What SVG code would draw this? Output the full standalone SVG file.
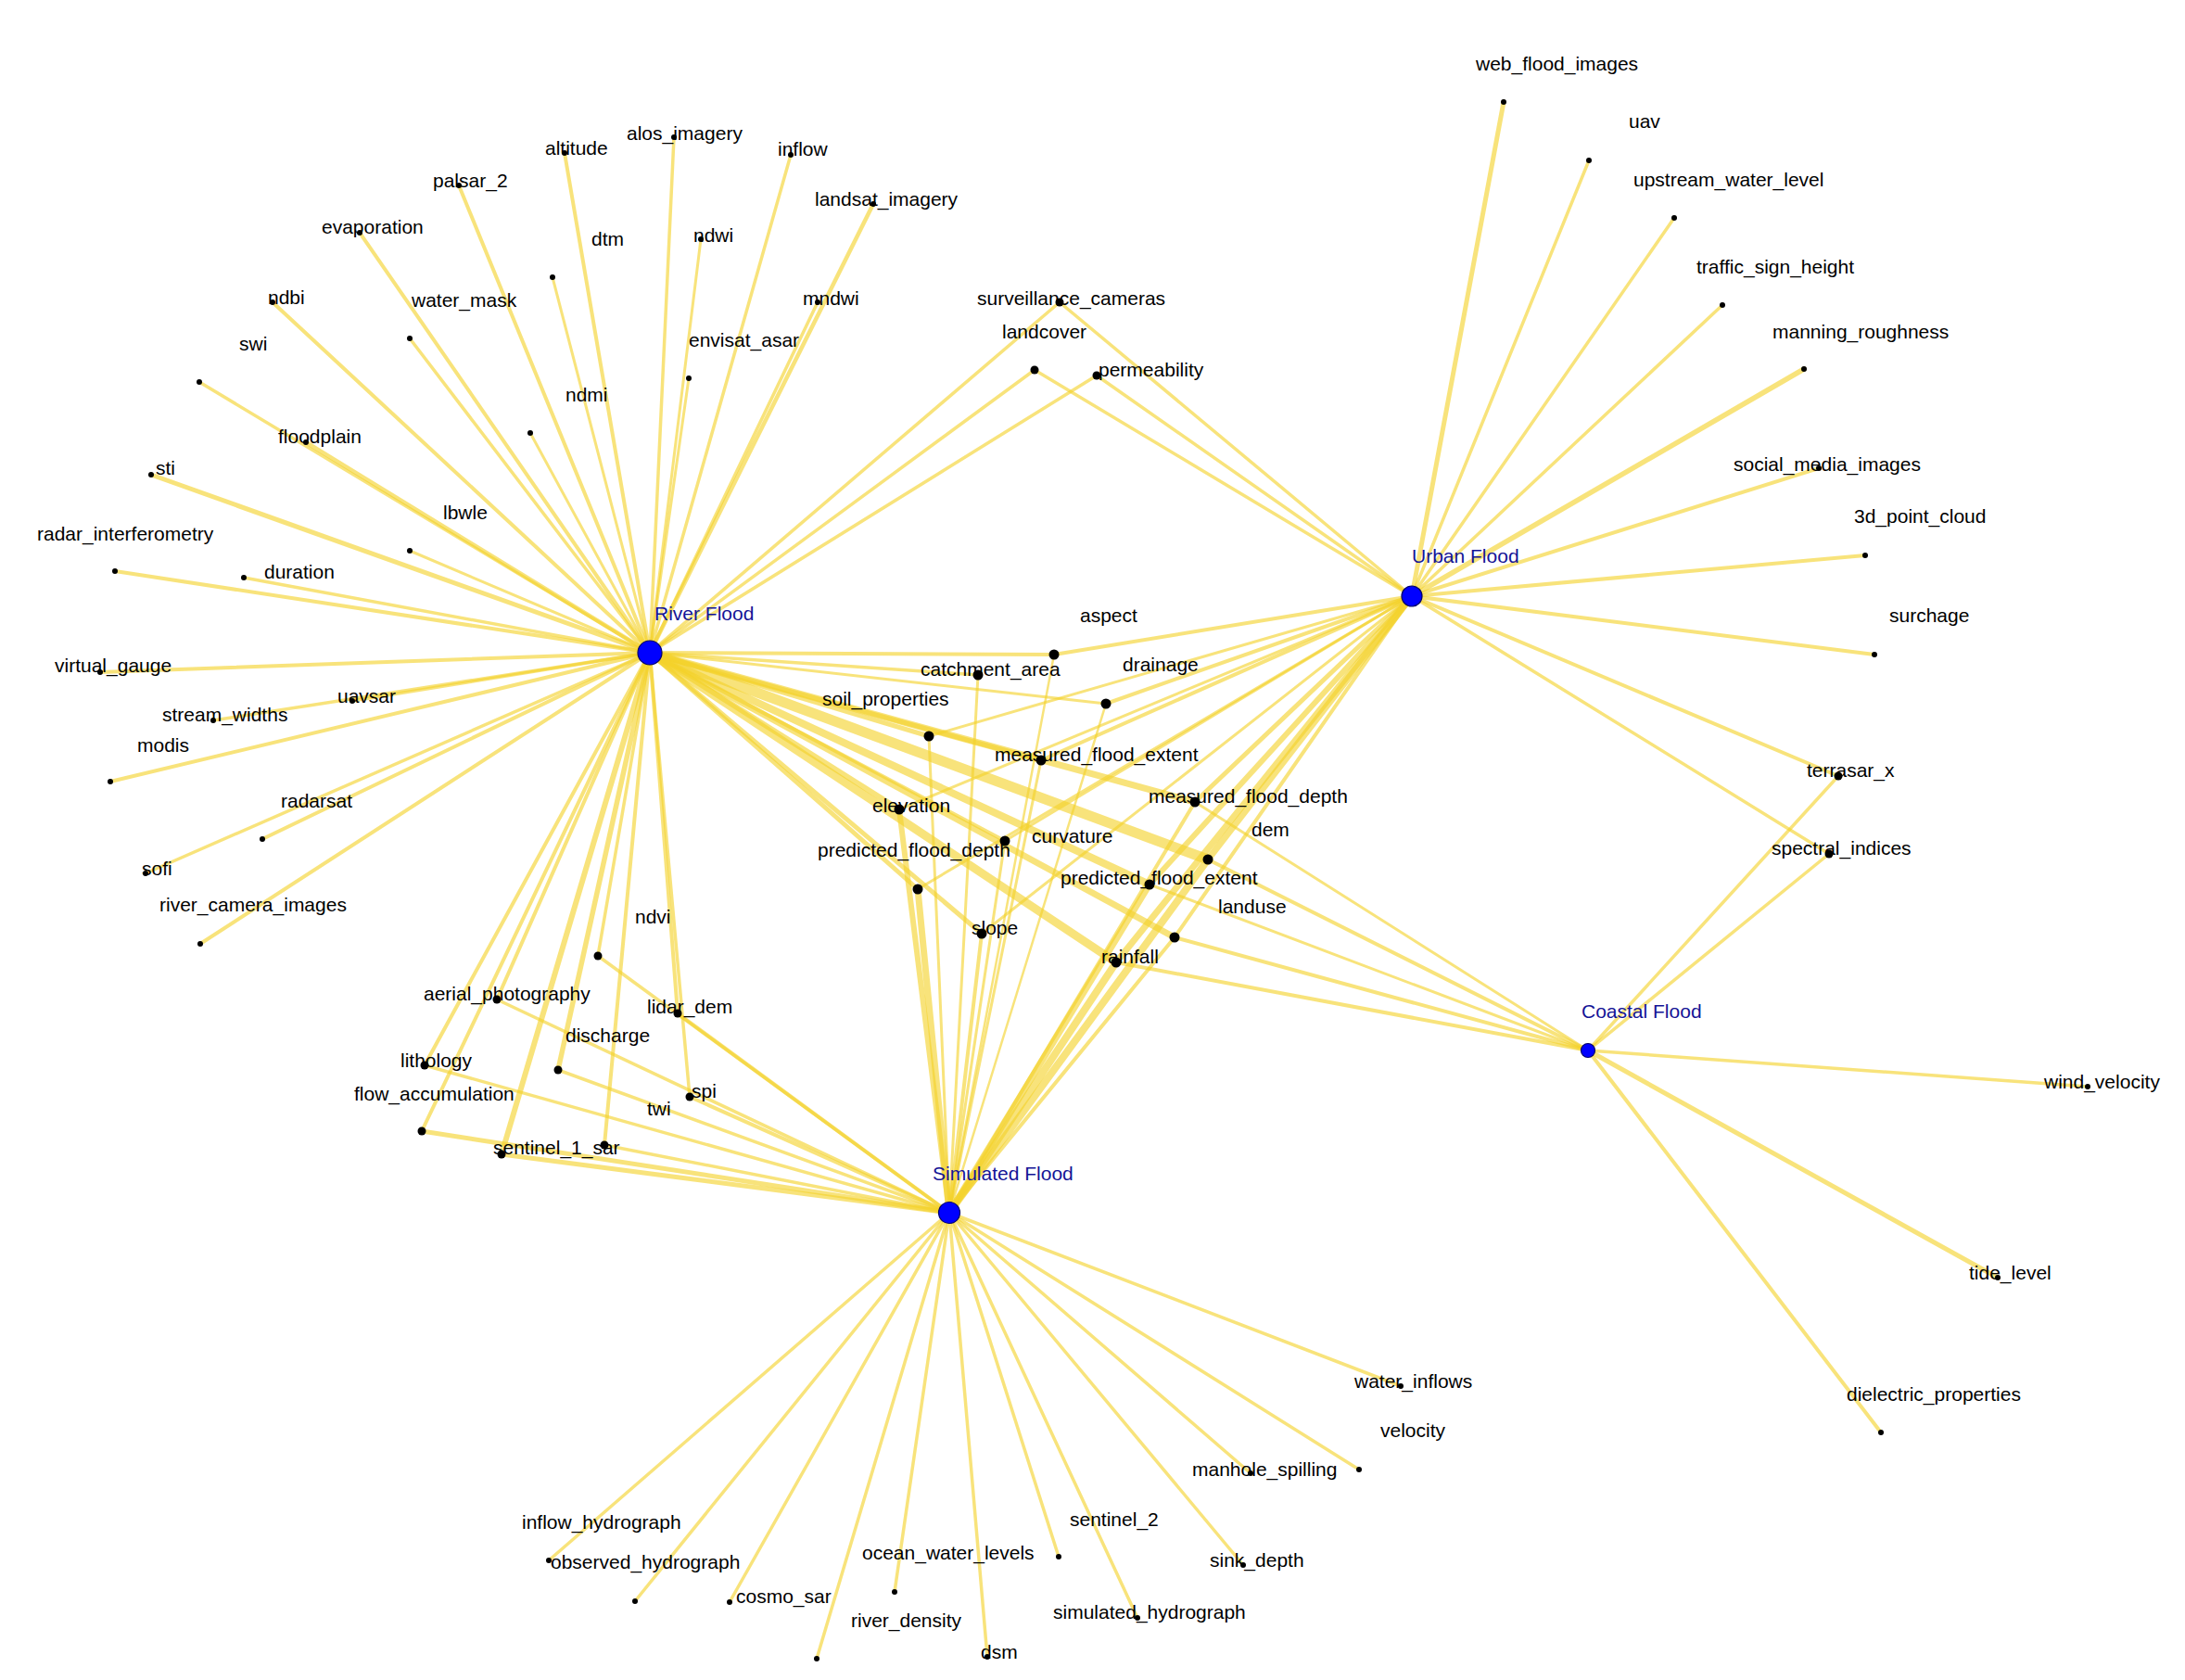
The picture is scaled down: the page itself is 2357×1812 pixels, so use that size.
<svg xmlns="http://www.w3.org/2000/svg" width="2357" height="1812" viewBox="0 0 2357 1812">
<style>
.e{stroke:#F4D22A;stroke-opacity:.62;stroke-linecap:round;fill:none}
.d1{fill:#000;r:3px}
.d2{fill:#000;r:4.5px}
.d3{fill:#000;r:5.5px}
.h{fill:#0000FF;stroke:#00006a;stroke-width:1.2}
text{font-family:"Liberation Sans",Arial,sans-serif;font-size:21px;fill:#000}
.ht{fill:#141496}
</style>
<rect width="2357" height="1812" fill="#fff"/>
<g id="connectors" class="edges">
<g id="river-edges">
<line class="e" x1="701" y1="704" x2="609" y2="165" stroke-width="4"/>
<line class="e" x1="701" y1="704" x2="727" y2="148" stroke-width="3.5"/>
<line class="e" x1="701" y1="704" x2="495" y2="200" stroke-width="4"/>
<line class="e" x1="701" y1="704" x2="388" y2="251" stroke-width="4"/>
<line class="e" x1="701" y1="704" x2="596" y2="299" stroke-width="3"/>
<line class="e" x1="701" y1="704" x2="756" y2="258" stroke-width="3"/>
<line class="e" x1="701" y1="704" x2="294" y2="326" stroke-width="4"/>
<line class="e" x1="701" y1="704" x2="442" y2="365" stroke-width="3.5"/>
<line class="e" x1="701" y1="704" x2="215" y2="412" stroke-width="3.5"/>
<line class="e" x1="701" y1="704" x2="743" y2="408" stroke-width="3"/>
<line class="e" x1="701" y1="704" x2="572" y2="467" stroke-width="3"/>
<line class="e" x1="701" y1="704" x2="330" y2="477" stroke-width="4.5"/>
<line class="e" x1="701" y1="704" x2="163" y2="512" stroke-width="5"/>
<line class="e" x1="701" y1="704" x2="442" y2="594" stroke-width="3"/>
<line class="e" x1="701" y1="704" x2="124" y2="616" stroke-width="4"/>
<line class="e" x1="701" y1="704" x2="263" y2="623" stroke-width="3.5"/>
<line class="e" x1="701" y1="704" x2="108" y2="725" stroke-width="4"/>
<line class="e" x1="701" y1="704" x2="380" y2="756" stroke-width="3.5"/>
<line class="e" x1="701" y1="704" x2="230" y2="777" stroke-width="3.5"/>
<line class="e" x1="701" y1="704" x2="119" y2="843" stroke-width="4"/>
<line class="e" x1="701" y1="704" x2="283" y2="905" stroke-width="4"/>
<line class="e" x1="701" y1="704" x2="157" y2="942" stroke-width="3.5"/>
<line class="e" x1="701" y1="704" x2="216" y2="1018" stroke-width="4"/>
<line class="e" x1="701" y1="704" x2="853" y2="167" stroke-width="3.5"/>
<line class="e" x1="701" y1="704" x2="942" y2="220" stroke-width="4.5"/>
<line class="e" x1="701" y1="704" x2="882" y2="326" stroke-width="3.5"/>
<line class="e" x1="701" y1="704" x2="1143" y2="326" stroke-width="3.5"/>
<line class="e" x1="701" y1="704" x2="1116" y2="399" stroke-width="3.5"/>
<line class="e" x1="701" y1="704" x2="1183" y2="405" stroke-width="3.5"/>
<line class="e" x1="701" y1="704" x2="645" y2="1031" stroke-width="3.5"/>
<line class="e" x1="701" y1="704" x2="536" y2="1078" stroke-width="4"/>
<line class="e" x1="701" y1="704" x2="731" y2="1093" stroke-width="4"/>
<line class="e" x1="701" y1="704" x2="602" y2="1154" stroke-width="5.5"/>
<line class="e" x1="701" y1="704" x2="458" y2="1149" stroke-width="4"/>
<line class="e" x1="701" y1="704" x2="455" y2="1220" stroke-width="4"/>
<line class="e" x1="701" y1="704" x2="744" y2="1183" stroke-width="3.5"/>
<line class="e" x1="701" y1="704" x2="652" y2="1235" stroke-width="4"/>
<line class="e" x1="701" y1="704" x2="541" y2="1245" stroke-width="6"/>
<line class="e" x1="701" y1="704" x2="1137" y2="706" stroke-width="4"/>
<line class="e" x1="701" y1="704" x2="1055" y2="728" stroke-width="3.5"/>
<line class="e" x1="701" y1="704" x2="1193" y2="759" stroke-width="3"/>
<line class="e" x1="701" y1="704" x2="1002" y2="794" stroke-width="5"/>
<line class="e" x1="701" y1="704" x2="1123" y2="820" stroke-width="5"/>
<line class="e" x1="701" y1="704" x2="1289" y2="865" stroke-width="7"/>
<line class="e" x1="701" y1="704" x2="970" y2="873" stroke-width="6"/>
<line class="e" x1="701" y1="704" x2="1084" y2="907" stroke-width="4"/>
<line class="e" x1="701" y1="704" x2="1303" y2="927" stroke-width="11"/>
<line class="e" x1="701" y1="704" x2="990" y2="959" stroke-width="5"/>
<line class="e" x1="701" y1="704" x2="1240" y2="954" stroke-width="8"/>
<line class="e" x1="701" y1="704" x2="1267" y2="1011" stroke-width="7"/>
<line class="e" x1="701" y1="704" x2="1059" y2="1007" stroke-width="5"/>
<line class="e" x1="701" y1="704" x2="1204" y2="1038" stroke-width="9"/>
</g>
<g id="urban-edges">
<line class="e" x1="1523" y1="643" x2="1622" y2="110" stroke-width="5"/>
<line class="e" x1="1523" y1="643" x2="1714" y2="173" stroke-width="3.5"/>
<line class="e" x1="1523" y1="643" x2="1806" y2="235" stroke-width="3.5"/>
<line class="e" x1="1523" y1="643" x2="1858" y2="329" stroke-width="3.5"/>
<line class="e" x1="1523" y1="643" x2="1946" y2="398" stroke-width="5.5"/>
<line class="e" x1="1523" y1="643" x2="1962" y2="505" stroke-width="4"/>
<line class="e" x1="1523" y1="643" x2="2012" y2="599" stroke-width="4"/>
<line class="e" x1="1523" y1="643" x2="2022" y2="706" stroke-width="4"/>
<line class="e" x1="1523" y1="643" x2="1983" y2="837" stroke-width="4"/>
<line class="e" x1="1523" y1="643" x2="1973" y2="921" stroke-width="3.5"/>
<line class="e" x1="1523" y1="643" x2="1143" y2="326" stroke-width="3.5"/>
<line class="e" x1="1523" y1="643" x2="1116" y2="399" stroke-width="3.5"/>
<line class="e" x1="1523" y1="643" x2="1183" y2="405" stroke-width="3.5"/>
<line class="e" x1="1523" y1="643" x2="1137" y2="706" stroke-width="4"/>
<line class="e" x1="1523" y1="643" x2="1193" y2="759" stroke-width="4"/>
<line class="e" x1="1523" y1="643" x2="1002" y2="794" stroke-width="3"/>
<line class="e" x1="1523" y1="643" x2="1123" y2="820" stroke-width="4"/>
<line class="e" x1="1523" y1="643" x2="1289" y2="865" stroke-width="5"/>
<line class="e" x1="1523" y1="643" x2="970" y2="873" stroke-width="3"/>
<line class="e" x1="1523" y1="643" x2="1084" y2="907" stroke-width="3"/>
<line class="e" x1="1523" y1="643" x2="1303" y2="927" stroke-width="7"/>
<line class="e" x1="1523" y1="643" x2="990" y2="959" stroke-width="3"/>
<line class="e" x1="1523" y1="643" x2="1240" y2="954" stroke-width="6"/>
<line class="e" x1="1523" y1="643" x2="1267" y2="1011" stroke-width="4"/>
<line class="e" x1="1523" y1="643" x2="1059" y2="1007" stroke-width="3"/>
<line class="e" x1="1523" y1="643" x2="1204" y2="1038" stroke-width="7"/>
</g>
<g id="simulated-edges">
<line class="e" x1="1024" y1="1308" x2="1511" y2="1495" stroke-width="3.5"/>
<line class="e" x1="1024" y1="1308" x2="1466" y2="1585" stroke-width="3.5"/>
<line class="e" x1="1024" y1="1308" x2="1349" y2="1589" stroke-width="3.5"/>
<line class="e" x1="1024" y1="1308" x2="1142" y2="1679" stroke-width="3.5"/>
<line class="e" x1="1024" y1="1308" x2="1341" y2="1688" stroke-width="3.5"/>
<line class="e" x1="1024" y1="1308" x2="965" y2="1717" stroke-width="3.5"/>
<line class="e" x1="1024" y1="1308" x2="787" y2="1728" stroke-width="3.5"/>
<line class="e" x1="1024" y1="1308" x2="881" y2="1789" stroke-width="3.5"/>
<line class="e" x1="1024" y1="1308" x2="1065" y2="1787" stroke-width="3.5"/>
<line class="e" x1="1024" y1="1308" x2="1227" y2="1745" stroke-width="3.5"/>
<line class="e" x1="1024" y1="1308" x2="592" y2="1683" stroke-width="3.5"/>
<line class="e" x1="1024" y1="1308" x2="685" y2="1727" stroke-width="3.5"/>
<line class="e" x1="1024" y1="1308" x2="645" y2="1031" stroke-width="3.5"/>
<line class="e" x1="1024" y1="1308" x2="536" y2="1078" stroke-width="3.5"/>
<line class="e" x1="1024" y1="1308" x2="731" y2="1093" stroke-width="4"/>
<line class="e" x1="1024" y1="1308" x2="602" y2="1154" stroke-width="3.5"/>
<line class="e" x1="1024" y1="1308" x2="458" y2="1149" stroke-width="3.5"/>
<line class="e" x1="1024" y1="1308" x2="455" y2="1220" stroke-width="5"/>
<line class="e" x1="1024" y1="1308" x2="744" y2="1183" stroke-width="4"/>
<line class="e" x1="1024" y1="1308" x2="652" y2="1235" stroke-width="3.5"/>
<line class="e" x1="1024" y1="1308" x2="541" y2="1245" stroke-width="5"/>
<line class="e" x1="1024" y1="1308" x2="1137" y2="706" stroke-width="2.5"/>
<line class="e" x1="1024" y1="1308" x2="1055" y2="728" stroke-width="3"/>
<line class="e" x1="1024" y1="1308" x2="1193" y2="759" stroke-width="2.5"/>
<line class="e" x1="1024" y1="1308" x2="1002" y2="794" stroke-width="3"/>
<line class="e" x1="1024" y1="1308" x2="1123" y2="820" stroke-width="3"/>
<line class="e" x1="1024" y1="1308" x2="1289" y2="865" stroke-width="4"/>
<line class="e" x1="1024" y1="1308" x2="970" y2="873" stroke-width="6"/>
<line class="e" x1="1024" y1="1308" x2="1084" y2="907" stroke-width="3"/>
<line class="e" x1="1024" y1="1308" x2="1303" y2="927" stroke-width="8"/>
<line class="e" x1="1024" y1="1308" x2="990" y2="959" stroke-width="7"/>
<line class="e" x1="1024" y1="1308" x2="1240" y2="954" stroke-width="7"/>
<line class="e" x1="1024" y1="1308" x2="1267" y2="1011" stroke-width="4"/>
<line class="e" x1="1024" y1="1308" x2="1059" y2="1007" stroke-width="4"/>
<line class="e" x1="1024" y1="1308" x2="1204" y2="1038" stroke-width="8"/>
</g>
<g id="coastal-edges">
<line class="e" x1="1713" y1="1133" x2="1983" y2="837" stroke-width="3.5"/>
<line class="e" x1="1713" y1="1133" x2="1973" y2="921" stroke-width="3.5"/>
<line class="e" x1="1713" y1="1133" x2="2252" y2="1172" stroke-width="3.5"/>
<line class="e" x1="1713" y1="1133" x2="2155" y2="1378" stroke-width="5"/>
<line class="e" x1="1713" y1="1133" x2="2029" y2="1545" stroke-width="4"/>
<line class="e" x1="1713" y1="1133" x2="1289" y2="865" stroke-width="3"/>
<line class="e" x1="1713" y1="1133" x2="1303" y2="927" stroke-width="4"/>
<line class="e" x1="1713" y1="1133" x2="1240" y2="954" stroke-width="3"/>
<line class="e" x1="1713" y1="1133" x2="1267" y2="1011" stroke-width="4"/>
<line class="e" x1="1713" y1="1133" x2="1204" y2="1038" stroke-width="4"/>
</g>
</g>
<g id="nodes">
<g id="n-river-flood"><circle class="h" cx="701" cy="704" r="13"/><text class="ht" x="706" y="669">River Flood</text></g>
<g id="n-urban-flood"><circle class="h" cx="1523" cy="643" r="11"/><text class="ht" x="1523" y="607">Urban Flood</text></g>
<g id="n-simulated-flood"><circle class="h" cx="1024" cy="1308" r="11.5"/><text class="ht" x="1006" y="1273">Simulated Flood</text></g>
<g id="n-coastal-flood"><circle class="h" cx="1713" cy="1133" r="7.5"/><text class="ht" x="1706" y="1098">Coastal Flood</text></g>

<g id="n-altitude"><circle class="d1" cx="609" cy="165" r="3"/><text x="588" y="167">altitude</text></g>
<g id="n-alos_imagery"><circle class="d1" cx="727" cy="148" r="3"/><text x="676" y="151">alos_imagery</text></g>
<g id="n-palsar_2"><circle class="d1" cx="495" cy="200" r="3"/><text x="467" y="202">palsar_2</text></g>
<g id="n-evaporation"><circle class="d1" cx="388" cy="251" r="3"/><text x="347" y="252">evaporation</text></g>
<g id="n-dtm"><circle class="d1" cx="596" cy="299" r="3"/><text x="638" y="265">dtm</text></g>
<g id="n-ndwi"><circle class="d1" cx="756" cy="258" r="3"/><text x="748" y="261">ndwi</text></g>
<g id="n-ndbi"><circle class="d1" cx="294" cy="326" r="3"/><text x="289" y="328">ndbi</text></g>
<g id="n-water_mask"><circle class="d1" cx="442" cy="365" r="3"/><text x="444" y="331">water_mask</text></g>
<g id="n-swi"><circle class="d1" cx="215" cy="412" r="3"/><text x="258" y="378">swi</text></g>
<g id="n-envisat_asar"><circle class="d1" cx="743" cy="408" r="3"/><text x="743" y="374">envisat_asar</text></g>
<g id="n-ndmi"><circle class="d1" cx="572" cy="467" r="3"/><text x="610" y="433">ndmi</text></g>
<g id="n-floodplain"><circle class="d1" cx="330" cy="477" r="3"/><text x="300" y="478">floodplain</text></g>
<g id="n-sti"><circle class="d1" cx="163" cy="512" r="3"/><text x="168" y="512">sti</text></g>
<g id="n-lbwle"><circle class="d1" cx="442" cy="594" r="3"/><text x="478" y="560">lbwle</text></g>
<g id="n-radar_interferometry"><circle class="d1" cx="124" cy="616" r="3"/><text x="40" y="583">radar_interferometry</text></g>
<g id="n-duration"><circle class="d1" cx="263" cy="623" r="3"/><text x="285" y="624">duration</text></g>
<g id="n-virtual_gauge"><circle class="d1" cx="108" cy="725" r="3"/><text x="59" y="725">virtual_gauge</text></g>
<g id="n-uavsar"><circle class="d1" cx="380" cy="756" r="3"/><text x="364" y="758">uavsar</text></g>
<g id="n-stream_widths"><circle class="d1" cx="230" cy="777" r="3"/><text x="175" y="778">stream_widths</text></g>
<g id="n-modis"><circle class="d1" cx="119" cy="843" r="3"/><text x="148" y="811">modis</text></g>
<g id="n-radarsat"><circle class="d1" cx="283" cy="905" r="3"/><text x="303" y="871">radarsat</text></g>
<g id="n-sofi"><circle class="d1" cx="157" cy="942" r="3"/><text x="153" y="944">sofi</text></g>
<g id="n-river_camera_images"><circle class="d1" cx="216" cy="1018" r="3"/><text x="172" y="983">river_camera_images</text></g>
<g id="n-inflow"><circle class="d1" cx="853" cy="167" r="3"/><text x="839" y="168">inflow</text></g>
<g id="n-landsat_imagery"><circle class="d1" cx="942" cy="220" r="3"/><text x="879" y="222">landsat_imagery</text></g>
<g id="n-mndwi"><circle class="d1" cx="882" cy="326" r="3"/><text x="866" y="329">mndwi</text></g>

<g id="n-surveillance_cameras"><circle class="d2" cx="1143" cy="326" r="4.5"/><text x="1054" y="329">surveillance_cameras</text></g>
<g id="n-landcover"><circle class="d2" cx="1116" cy="399" r="4.5"/><text x="1081" y="365">landcover</text></g>
<g id="n-permeability"><circle class="d2" cx="1183" cy="405" r="4.5"/><text x="1185" y="406">permeability</text></g>

<g id="n-web_flood_images"><circle class="d1" cx="1622" cy="110" r="3"/><text x="1592" y="76">web_flood_images</text></g>
<g id="n-uav"><circle class="d1" cx="1714" cy="173" r="3"/><text x="1757" y="138">uav</text></g>
<g id="n-upstream_water_level"><circle class="d1" cx="1806" cy="235" r="3"/><text x="1762" y="201">upstream_water_level</text></g>
<g id="n-traffic_sign_height"><circle class="d1" cx="1858" cy="329" r="3"/><text x="1830" y="295">traffic_sign_height</text></g>
<g id="n-manning_roughness"><circle class="d1" cx="1946" cy="398" r="3"/><text x="1912" y="365">manning_roughness</text></g>
<g id="n-social_media_images"><circle class="d1" cx="1962" cy="505" r="3"/><text x="1870" y="508">social_media_images</text></g>
<g id="n-3d_point_cloud"><circle class="d1" cx="2012" cy="599" r="3"/><text x="2000" y="564">3d_point_cloud</text></g>
<g id="n-surchage"><circle class="d1" cx="2022" cy="706" r="3"/><text x="2038" y="671">surchage</text></g>
<g id="n-terrasar_x"><circle class="d2" cx="1983" cy="837" r="4.5"/><text x="1949" y="838">terrasar_x</text></g>
<g id="n-spectral_indices"><circle class="d2" cx="1973" cy="921" r="4.5"/><text x="1911" y="922">spectral_indices</text></g>
<g id="n-wind_velocity"><circle class="d1" cx="2252" cy="1172" r="3"/><text x="2205" y="1174">wind_velocity</text></g>
<g id="n-tide_level"><circle class="d1" cx="2155" cy="1378" r="3"/><text x="2124" y="1380">tide_level</text></g>
<g id="n-dielectric_properties"><circle class="d1" cx="2029" cy="1545" r="3"/><text x="1992" y="1511">dielectric_properties</text></g>

<g id="n-water_inflows"><circle class="d1" cx="1511" cy="1495" r="3"/><text x="1461" y="1497">water_inflows</text></g>
<g id="n-velocity"><circle class="d1" cx="1466" cy="1585" r="3"/><text x="1489" y="1550">velocity</text></g>
<g id="n-manhole_spilling"><circle class="d1" cx="1349" cy="1589" r="3"/><text x="1286" y="1592">manhole_spilling</text></g>
<g id="n-sentinel_2"><circle class="d1" cx="1142" cy="1679" r="3"/><text x="1154" y="1646">sentinel_2</text></g>
<g id="n-sink_depth"><circle class="d1" cx="1341" cy="1688" r="3"/><text x="1305" y="1690">sink_depth</text></g>
<g id="n-ocean_water_levels"><circle class="d1" cx="965" cy="1717" r="3"/><text x="930" y="1682">ocean_water_levels</text></g>
<g id="n-cosmo_sar"><circle class="d1" cx="787" cy="1728" r="3"/><text x="794" y="1729">cosmo_sar</text></g>
<g id="n-river_density"><circle class="d1" cx="881" cy="1789" r="3"/><text x="918" y="1755">river_density</text></g>
<g id="n-dsm"><circle class="d1" cx="1065" cy="1787" r="3"/><text x="1058" y="1789">dsm</text></g>
<g id="n-simulated_hydrograph"><circle class="d1" cx="1227" cy="1745" r="3"/><text x="1136" y="1746">simulated_hydrograph</text></g>
<g id="n-inflow_hydrograph"><circle class="d1" cx="592" cy="1683" r="3"/><text x="563" y="1649">inflow_hydrograph</text></g>
<g id="n-observed_hydrograph"><circle class="d1" cx="685" cy="1727" r="3"/><text x="594" y="1692">observed_hydrograph</text></g>

<g id="n-ndvi"><circle class="d2" cx="645" cy="1031" r="4.5"/><text x="685" y="996">ndvi</text></g>
<g id="n-aerial_photography"><circle class="d2" cx="536" cy="1078" r="4.5"/><text x="457" y="1079">aerial_photography</text></g>
<g id="n-lidar_dem"><circle class="d2" cx="731" cy="1093" r="4.5"/><text x="698" y="1093">lidar_dem</text></g>
<g id="n-discharge"><circle class="d2" cx="602" cy="1154" r="4.5"/><text x="610" y="1124">discharge</text></g>
<g id="n-lithology"><circle class="d2" cx="458" cy="1149" r="4.5"/><text x="432" y="1151">lithology</text></g>
<g id="n-flow_accumulation"><circle class="d2" cx="455" cy="1220" r="4.5"/><text x="382" y="1187">flow_accumulation</text></g>
<g id="n-spi"><circle class="d2" cx="744" cy="1183" r="4.5"/><text x="746" y="1184">spi</text></g>
<g id="n-twi"><circle class="d2" cx="652" cy="1235" r="4.5"/><text x="698" y="1203">twi</text></g>
<g id="n-sentinel_1_sar"><circle class="d2" cx="541" cy="1245" r="4.5"/><text x="532" y="1245">sentinel_1_sar</text></g>

<g id="n-aspect"><circle class="d3" cx="1137" cy="706" r="5.5"/><text x="1165" y="671">aspect</text></g>
<g id="n-catchment_area"><circle class="d3" cx="1055" cy="728" r="5.5"/><text x="993" y="729">catchment_area</text></g>
<g id="n-drainage"><circle class="d3" cx="1193" cy="759" r="5.5"/><text x="1211" y="724">drainage</text></g>
<g id="n-soil_properties"><circle class="d3" cx="1002" cy="794" r="5.5"/><text x="887" y="761">soil_properties</text></g>
<g id="n-measured_flood_extent"><circle class="d3" cx="1123" cy="820" r="5.5"/><text x="1073" y="821">measured_flood_extent</text></g>
<g id="n-measured_flood_depth"><circle class="d3" cx="1289" cy="865" r="5.5"/><text x="1239" y="866">measured_flood_depth</text></g>
<g id="n-elevation"><circle class="d3" cx="970" cy="873" r="5.5"/><text x="941" y="876">elevation</text></g>
<g id="n-curvature"><circle class="d3" cx="1084" cy="907" r="5.5"/><text x="1113" y="909">curvature</text></g>
<g id="n-dem"><circle class="d3" cx="1303" cy="927" r="5.5"/><text x="1350" y="902">dem</text></g>
<g id="n-predicted_flood_depth"><circle class="d3" cx="990" cy="959" r="5.5"/><text x="882" y="924">predicted_flood_depth</text></g>
<g id="n-predicted_flood_extent"><circle class="d3" cx="1240" cy="954" r="5.5"/><text x="1144" y="954">predicted_flood_extent</text></g>
<g id="n-landuse"><circle class="d3" cx="1267" cy="1011" r="5.5"/><text x="1314" y="985">landuse</text></g>
<g id="n-slope"><circle class="d3" cx="1059" cy="1007" r="5.5"/><text x="1048" y="1008">slope</text></g>
<g id="n-rainfall"><circle class="d3" cx="1204" cy="1038" r="5.5"/><text x="1188" y="1039">rainfall</text></g>
</g>
</svg>
